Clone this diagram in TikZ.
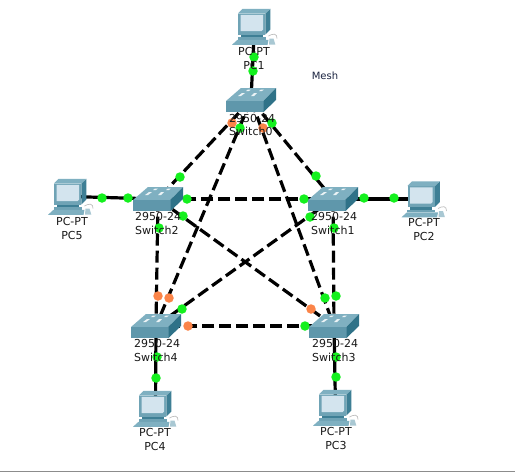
\documentclass[tikz,border=0pt]{standalone}
\usepackage{fontspec}
\setmainfont{DejaVu Sans}
\usetikzlibrary{positioning}
\definecolor{upgreen}{HTML}{14F01E}
\definecolor{waitorange}{HTML}{FB8448}
\definecolor{swfront}{HTML}{5F97AB}
\definecolor{swtop}{HTML}{7FB0C1}
\definecolor{swside}{HTML}{2F7288}
\definecolor{pcbody}{HTML}{6FA3B5}
\definecolor{pcscreen}{HTML}{D3E4EE}
\definecolor{pcdark}{HTML}{3E7F95}
\definecolor{meshtext}{HTML}{1A2340}
\tikzset{
  devpt/.style={inner sep=0pt, minimum size=1pt},
  cable/.style={line width=3.2pt, black},
  meshcable/.style={cable, dash pattern=on 12pt off 5pt},
  gdot/.style={circle, fill=upgreen, inner sep=0pt, minimum size=9.5pt},
  odot/.style={circle, fill=waitorange, inner sep=0pt, minimum size=9.5pt},
  swtxt/.style={font=\fontsize{11}{13.3}\selectfont, align=left, anchor=west, text=black!90, inner sep=0pt},
  pctxt/.style={font=\fontsize{11}{13.3}\selectfont, align=center, text=black!90, inner sep=0pt},
  switchicon/.pic={
    \fill[swtop] (-25,1) -- (-10,-12) -- (25,-12) -- (12.5,1) -- cycle;
    \fill[swfront] (-25,1) -- (12.5,1) -- (12.5,12) -- (-25,12) -- cycle;
    \fill[swside] (12.5,1) -- (25,-12) -- (25,0) -- (12.5,12) -- cycle;
    \fill[white!85!swtop] (-13,-4) -- (-9,-7) -- (-6,-7) -- (-10,-4) -- cycle;
    \fill[white!85!swtop] (0,-4) -- (3,-7) -- (6,-7) -- (3,-4) -- cycle;
    \fill[white!85!swtop] (-5,-9) -- (-3,-10.5) -- (0,-10.5) -- (-2,-9) -- cycle;
    \fill[white!85!swtop] (8,-9) -- (10,-10.5) -- (13,-10.5) -- (11,-9) -- cycle;
  },
  pcicon/.pic={
    % monitor
    \fill[pcdark] (10.8,-13) -- (15.8,-17.7) -- (15.8,3) -- (10.8,8) -- cycle;
    \fill[swtop] (-16.5,-13) -- (-12,-17.7) -- (15.8,-17.7) -- (10.8,-13) -- cycle;
    \fill[pcbody] (-16.5,-13) -- (10.8,-13) -- (10.8,8) -- (-16.5,8) -- cycle;
    \fill[pcscreen] (-14,-11.7) -- (8.5,-11.7) -- (8.5,3) -- (7,4.5) -- (-14,4.5) -- cycle;
    \fill[pcdark] (-14,8) -- (8,8) -- (8,10.7) -- (-14,10.7) -- cycle;
    % base and keyboard
    \fill[pcbody] (-17,10.7) -- (11,10.7) -- (11,13.3) -- (-17,13.3) -- cycle;
    \fill[swtop] (-17,13.3) -- (14,13.3) -- (13,18.3) -- (-22.5,18.3) -- cycle;
    % mouse
    \fill[pcbody!60] (15,12) -- (19,12) -- (20.8,18) -- (14.5,18) -- cycle;
    \draw[black!25, line width=.7pt] (14,9.5) to[out=30,in=180] (20,7.7) to[out=0,in=90] (22.5,12);
  }
}
\begin{document}
\begin{tikzpicture}[x=1pt,y=-1pt]
  \useasboundingbox (0,0) rectangle (515,472);
  \fill[white] (0,0) rectangle (515,472);
  \fill[black!45] (0,470.5) rectangle (515,472);
  % devices
  \node[devpt] (sw0) at (251,100) {};
  \node[devpt] (sw1) at (333,199) {};
  \node[devpt] (sw2) at (158,199) {};
  \node[devpt] (sw3) at (334,326) {};
  \node[devpt] (sw4) at (156,326) {};
  \node[devpt] (pc1) at (254.5,26.5) {};
  \node[devpt] (pc2) at (424,199) {};
  \node[devpt] (pc3) at (335.5,407.5) {};
  \node[devpt] (pc4) at (155.5,408.5) {};
  \node[devpt] (pc5) at (70.5,196.5) {};
  % links
  \draw[cable] (pc1) -- (sw0);
  \draw[cable] (pc2) -- (sw1);
  \draw[cable] (pc3) -- (sw3);
  \draw[cable] (pc4) -- (sw4);
  \draw[cable] (pc5) -- (sw2);
  \foreach \a/\b in {sw0/sw1,sw0/sw2,sw0/sw3,sw0/sw4,sw1/sw2,sw1/sw3,sw1/sw4,sw2/sw3,sw2/sw4,sw3/sw4}
    \draw[meshcable] (\a) -- (\b);
  % link lights
  \foreach \x/\y [count=\i] in {254/57,253/71,272/123,240/128,316/176,180/177,325/298,187/199,304/199,183/216,310/217,182/309,159/228,334/228,336/296,305/326,364/198,394/198,102/198,128/198,157/357,156/378,336/357,336/377}
    \node[gdot] (g\i) at (\x,\y) {};
  \foreach \x/\y [count=\i] in {232/123,169/298,263/128,158/296,311/309,188/326}
    \node[odot] (o\i) at (\x,\y) {};
  % icons
  \foreach \n in {sw0,sw1,sw2,sw3,sw4}
    \pic at (\n) {switchicon};
  \foreach \n in {pc1,pc2,pc3,pc4,pc5}
    \pic at (\n) {pcicon};
  % labels
  \node[pctxt] (lpc1) at (254,58.5) {PC-PT\\PC1};
  \node[pctxt] (lpc2) at (424,229.5) {PC-PT\\PC2};
  \node[pctxt] (lpc3) at (336,438.5) {PC-PT\\PC3};
  \node[pctxt] (lpc4) at (155,439.5) {PC-PT\\PC4};
  \node[pctxt] (lpc5) at (72,228.5) {PC-PT\\PC5};
  \node[swtxt] (lsw0) at (229,125) {2950-24\\Switch0};
  \node[swtxt] (lsw1) at (311,223.5) {2950-24\\Switch1};
  \node[swtxt] (lsw2) at (135,223.5) {2950-24\\Switch2};
  \node[swtxt] (lsw3) at (312,350.5) {2950-24\\Switch3};
  \node[swtxt] (lsw4) at (134,350.5) {2950-24\\Switch4};
  \node[font=\fontsize{10}{12}\selectfont, text=meshtext, inner sep=0pt] (mesh) at (325,76) {Mesh};
\end{tikzpicture}
\end{document}
